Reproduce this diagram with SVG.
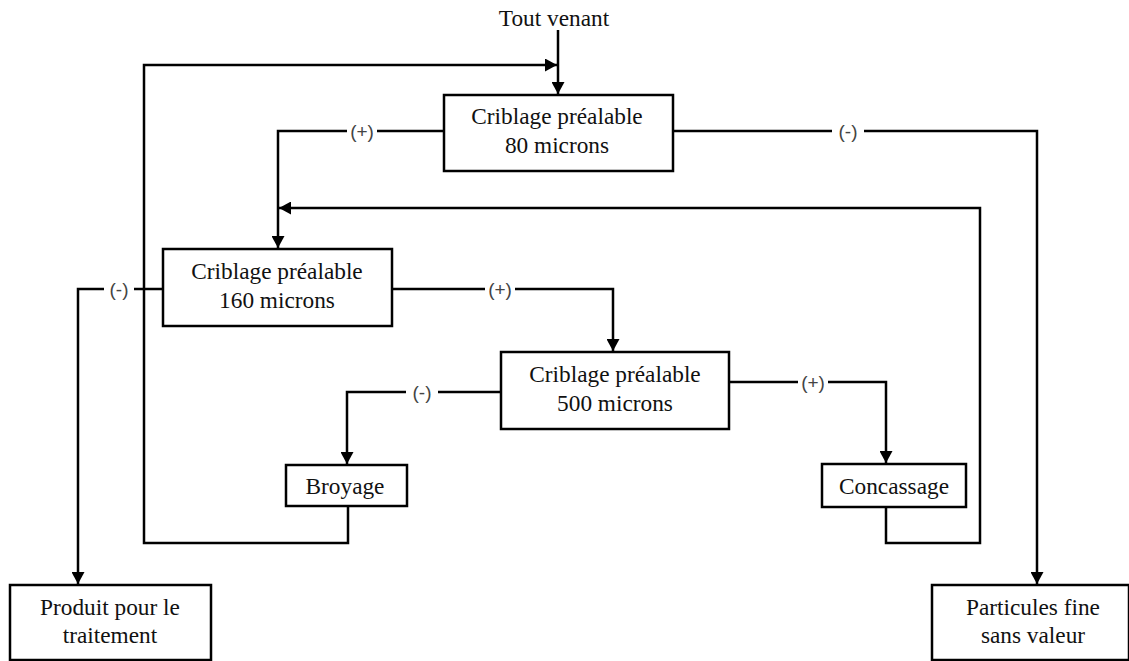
<svg xmlns="http://www.w3.org/2000/svg" width="1129" height="661" viewBox="0 0 1129 661">
<defs>
<marker id="arr" markerUnits="userSpaceOnUse" markerWidth="13" markerHeight="13" refX="12" refY="6.5" orient="auto">
<path d="M0,0 L12,6.5 L0,13 z" fill="#000"/>
</marker>
<style>
.box{fill:#fff;stroke:#000;stroke-width:2.5}
.t{font-family:'Liberation Serif','DejaVu Serif',serif;font-size:23.3px;fill:#111;text-anchor:middle}
.c{fill:none;stroke:#000;stroke-width:2.5}
.a{marker-end:url(#arr)}
.lbl{font-family:'Liberation Sans',Arial,sans-serif;font-size:19px;fill:#444;text-anchor:middle}
.bg{fill:#fff}
</style>
</defs>
<rect width="1129" height="661" fill="#fff"/>
<g id="connectors">
<path class="c a" d="M558,30 V94"/>
<path class="c a" d="M348,506 V543 H144 V65 H557"/>
<path class="c a" d="M443,131 H278 V248"/>
<path class="c a" d="M673,131 H1037 V584"/>
<path class="c a" d="M886,507 V543 H980 V208 H279"/>
<path class="c a" d="M163,289 H78 V584"/>
<path class="c a" d="M392,289 H613 V351"/>
<path class="c a" d="M501,392 H347 V464"/>
<path class="c a" d="M729,382 H886 V463"/>
<g id="labels">
<rect class="bg" x="347" y="119" width="30" height="24"/><text class="lbl" x="362" y="138">(+)</text>
<rect class="bg" x="832" y="119" width="32" height="24"/><text class="lbl" x="848" y="138">(-)</text>
<rect class="bg" x="104" y="277" width="30" height="24"/><text class="lbl" x="119" y="296">(-)</text>
<rect class="bg" x="485" y="277" width="30" height="24"/><text class="lbl" x="500" y="296">(+)</text>
<rect class="bg" x="406" y="380" width="32" height="24"/><text class="lbl" x="422" y="399">(-)</text>
<rect class="bg" x="798" y="370" width="30" height="24"/><text class="lbl" x="813" y="389">(+)</text>
</g>
</g>
<g id="tout-venant"><text class="t" x="554" y="26">Tout venant</text></g>
<g id="crib80">
<rect class="box" x="444" y="95" width="229" height="76"/>
<text class="t" x="557" y="124">Criblage préalable</text>
<text class="t" x="557" y="153">80 microns</text>
</g>
<g id="crib160">
<rect class="box" x="163" y="249" width="229" height="77"/>
<text class="t" x="277" y="279">Criblage préalable</text>
<text class="t" x="277" y="308">160 microns</text>
</g>
<g id="crib500">
<rect class="box" x="501" y="352" width="228" height="77"/>
<text class="t" x="615" y="382">Criblage préalable</text>
<text class="t" x="615" y="411">500 microns</text>
</g>
<g id="broyage">
<rect class="box" x="286" y="465" width="121" height="41"/>
<text class="t" x="345" y="494">Broyage</text>
</g>
<g id="concassage">
<rect class="box" x="822" y="464" width="144" height="43"/>
<text class="t" x="894" y="494">Concassage</text>
</g>
<g id="produit">
<rect class="box" x="10" y="585" width="201" height="75"/>
<text class="t" x="110" y="615">Produit pour le</text>
<text class="t" x="110" y="643">traitement</text>
</g>
<g id="particules">
<rect class="box" x="932" y="585" width="197" height="75"/>
<text class="t" x="1033" y="615">Particules fine</text>
<text class="t" x="1033" y="643">sans valeur</text>
</g>
</svg>
